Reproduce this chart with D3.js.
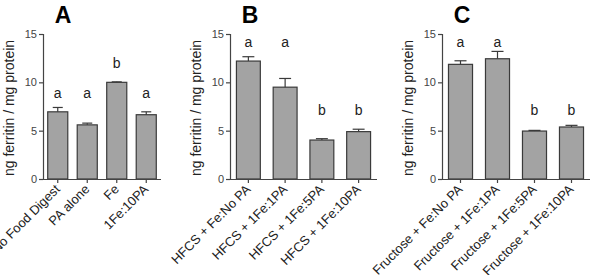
<!DOCTYPE html>
<html>
<head>
<meta charset="utf-8">
<script src="https://cdn.jsdelivr.net/npm/d3@7"></script>
<style>
  body { margin: 0; background: #fff; }
  svg { display: block; font-family: "Liberation Sans", Arial, sans-serif; }
</style>
</head>
<body>
<svg id="chart" width="592" height="275"></svg>
<script>
// ferritin per mg protein, three experiments
const catsA = ["No Food Digest", "PA alone", "Fe", "1Fe:10PA"]
const meansA = [6.95, 5.6, 10.0, 6.65]
const errA = [0.45, 0.18, 0.05, 0.3]
const lettersA = ["a", "a", "b", "a"]
const letterLevelA = [8.4, 8.4, 11.5, 8.4]

const catsB = ["HFCS + Fe:No PA", "HFCS + 1Fe:1PA", "HFCS + 1Fe:5PA", "HFCS + 1Fe:10PA"]
const meansB = [12.2, 9.5, 4.03, 4.9]
const errB = [0.45, 0.9, 0.14, 0.25]
const lettersB = ["a", "a", "b", "b"]
const letterLevelB = [13.65, 13.65, 6.6, 6.6]

const catsC = ["Fructose + Fe:No PA", "Fructose + 1Fe:1PA", "Fructose + 1Fe:5PA", "Fructose + 1Fe:10PA"]
const meansC = [11.86, 12.44, 4.96, 5.38]
const errC = [0.37, 0.76, 0.07, 0.17]
const lettersC = ["a", "a", "b", "b"]
const letterLevelC = [13.65, 13.65, 6.6, 6.6]

const yTicks = [0, 5, 10, 15]
const yLabel = "ng ferritin / mg protein"

const svg = d3.select("#chart")
const y = d3.scaleLinear().domain([0, 15]).range([179, 34])

function panel(title, cats, means, errs, letters, levels, x0, x1, pad) {
  const g = svg.append("g")
  const x = d3.scaleBand().domain(cats).range([x0, x1])
    .paddingInner(pad).paddingOuter(pad / 2)

  // bars
  g.selectAll("rect.bar").data(cats).join("rect")
    .attr("x", d => x(d))
    .attr("y", (d, i) => y(means[i]))
    .attr("width", x.bandwidth())
    .attr("height", (d, i) => y(0) - y(means[i]))
    .style("fill", "#a3a3a3")
    .style("stroke", "#3a3a3a")
    .style("stroke-width", 1.2)

  // error bars, upper only
  const capW = x.bandwidth() / 2
  cats.forEach((c, i) => {
    const cx = x(c) + x.bandwidth() / 2
    g.append("line")
      .attr("x1", cx).attr("x2", cx)
      .attr("y1", y(means[i])).attr("y2", y(means[i] + errs[i]))
      .style("stroke", "#3a3a3a").style("stroke-width", 1.2)
    g.append("line")
      .attr("x1", cx - capW / 2).attr("x2", cx + capW / 2)
      .attr("y1", y(means[i] + errs[i])).attr("y2", y(means[i] + errs[i]))
      .style("stroke", "#3a3a3a").style("stroke-width", 1.2)
    g.append("text")
      .attr("x", cx).attr("y", y(levels[i]))
      .attr("text-anchor", "middle")
      .style("font-size", "14px").style("fill", "#222")
      .text(letters[i])
  })

  // axes
  const ya = g.append("g").attr("transform", `translate(${x0},0)`)
    .call(d3.axisLeft(y).tickValues(yTicks).tickSize(4).tickPadding(2).tickSizeOuter(0))
  const xa = g.append("g").attr("transform", `translate(0,${y(0)})`)
    .call(d3.axisBottom(x).tickSize(4).tickSizeOuter(0))
  ya.selectAll("text").style("font-size", "11px").style("fill", "#444")
  ya.select(".domain").attr("d", `M0.5,${y(0)}V${y(15)}`)
  xa.select(".domain").attr("d", `M${x0},0.5H${x1}`)
  g.selectAll(".domain, .tick line").style("stroke", "#444").style("stroke-width", 1.2)

  xa.selectAll("text")
    .attr("text-anchor", "end")
    .attr("dy", null)
    .attr("y", null)
    .attr("transform", "translate(3,11) rotate(-45)")
    .style("font-size", "13px").style("fill", "#222")

  // y label
  g.append("text")
    .attr("transform", `translate(${x0 - 29},108) rotate(-90)`)
    .attr("text-anchor", "middle")
    .style("font-size", "14px").style("fill", "#222")
    .text(yLabel)

  // panel title
  g.append("text")
    .attr("x", x0 + 20).attr("y", 23)
    .attr("text-anchor", "middle")
    .style("font-size", "23px").style("font-weight", "bold")
    .text(title)
}

panel("A", catsA, meansA, errA, lettersA, letterLevelA, 43, 161, 0.32)
panel("B", catsB, meansB, errB, lettersB, letterLevelB, 230, 377, 0.35)
panel("C", catsC, meansC, errC, lettersC, letterLevelC, 442, 590, 0.35)
</script>
</body>
</html>
